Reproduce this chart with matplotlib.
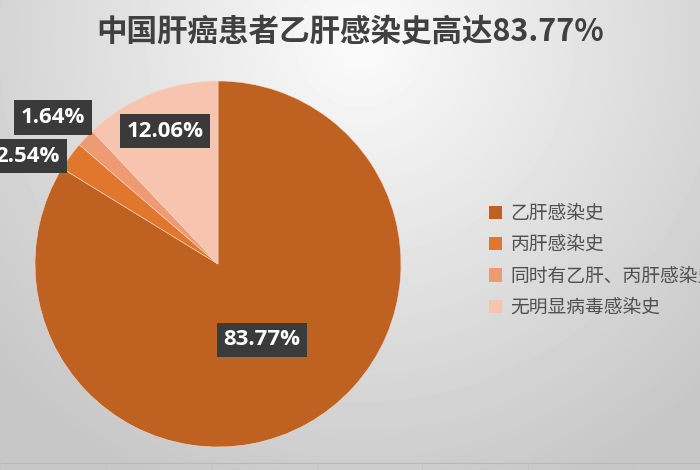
import numpy as np
import matplotlib
matplotlib.use("Agg")
import matplotlib.pyplot as plt
from matplotlib.patches import Rectangle

plt.rcParams['font.family'] = ['Noto Sans CJK SC', 'DejaVu Sans']

# data
title = "中国肝癌患者乙肝感染史高达83.77%"
categories = ["乙肝感染史", "丙肝感染史", "同时有乙肝、丙肝感染史", "无明显病毒感染史"]
shares = [83.77, 2.54, 1.64, 12.06]
colors = ["#BF6120", "#E0772D", "#EE9B74", "#F6C4AF"]
# where each percentage box sits (pie data units)
label_pos = [(0.24, -0.415), (-1.04, 0.59), (-0.90, 0.80), (-0.29, 0.725)]

W, H = 700, 470
fig = plt.figure(figsize=(W / 100, H / 100), dpi=100)

# background: soft radial gradient, bright near the top centre
bg = fig.add_axes([0, 0, 1, 1], zorder=-10)
yy, xx = np.mgrid[0:H, 0:W]
d = np.sqrt(((xx - 360) / 520.0) ** 2 + ((yy - 40) / 520.0) ** 2)
shade = np.clip(0.985 - 0.22 * d, 0.78, 1.0)
bg.imshow(shade, cmap='gray', vmin=0, vmax=1, extent=[0, W, H, 0], aspect='auto')
bg.set_xlim(0, W)
bg.set_ylim(H, 0)
bg.axis('off')
# faint line along the bottom
bg.plot([0, W], [463, 463], color='#b8b8b8', lw=0.8)
for tx in np.arange(0, W, 105.5):
    bg.plot([tx, tx], [463, 470], color='#c4c4c4', lw=0.8)

# pie, centre (218, 264), radius 183 px
cx, cy, r = 218, 264, 183
ax = fig.add_axes([(cx - r) / W, (H - cy - r) / H, 2 * r / W, 2 * r / H])
ax.pie(shares, colors=colors, startangle=90, counterclock=False, radius=1,
       wedgeprops=dict(edgecolor='#f4d9cc', linewidth=0.4))
ax.set_xlim(-1, 1)
ax.set_ylim(-1, 1)
ax.axis('off')

for v, (px, py) in zip(shares, label_pos):
    ax.text(px, py, f"{v:.2f}%", ha='center', va='center', color='white',
            fontsize=16, fontweight='bold', family=['Open Sans', 'DejaVu Sans'],
            bbox=dict(boxstyle='square,pad=0.3', fc='#3a3a3a', ec='none'),
            clip_on=False, zorder=5)

fig.text(350 / W, 1 - 31 / H, title, ha='center', va='center',
         fontsize=22, fontweight='bold', color='#404040')

# legend
handles = [Rectangle((0, 0), 1, 1, fc=c, ec='none') for c in colors]
fig.legend(handles, categories, loc='upper left',
           bbox_to_anchor=(472 / W, 1 - 186 / H), frameon=False,
           fontsize=13.5, labelcolor='#505050', handlelength=0.7,
           handleheight=0.7, handletextpad=0.45, labelspacing=0.55)

fig.savefig('out.png', dpi=100)
